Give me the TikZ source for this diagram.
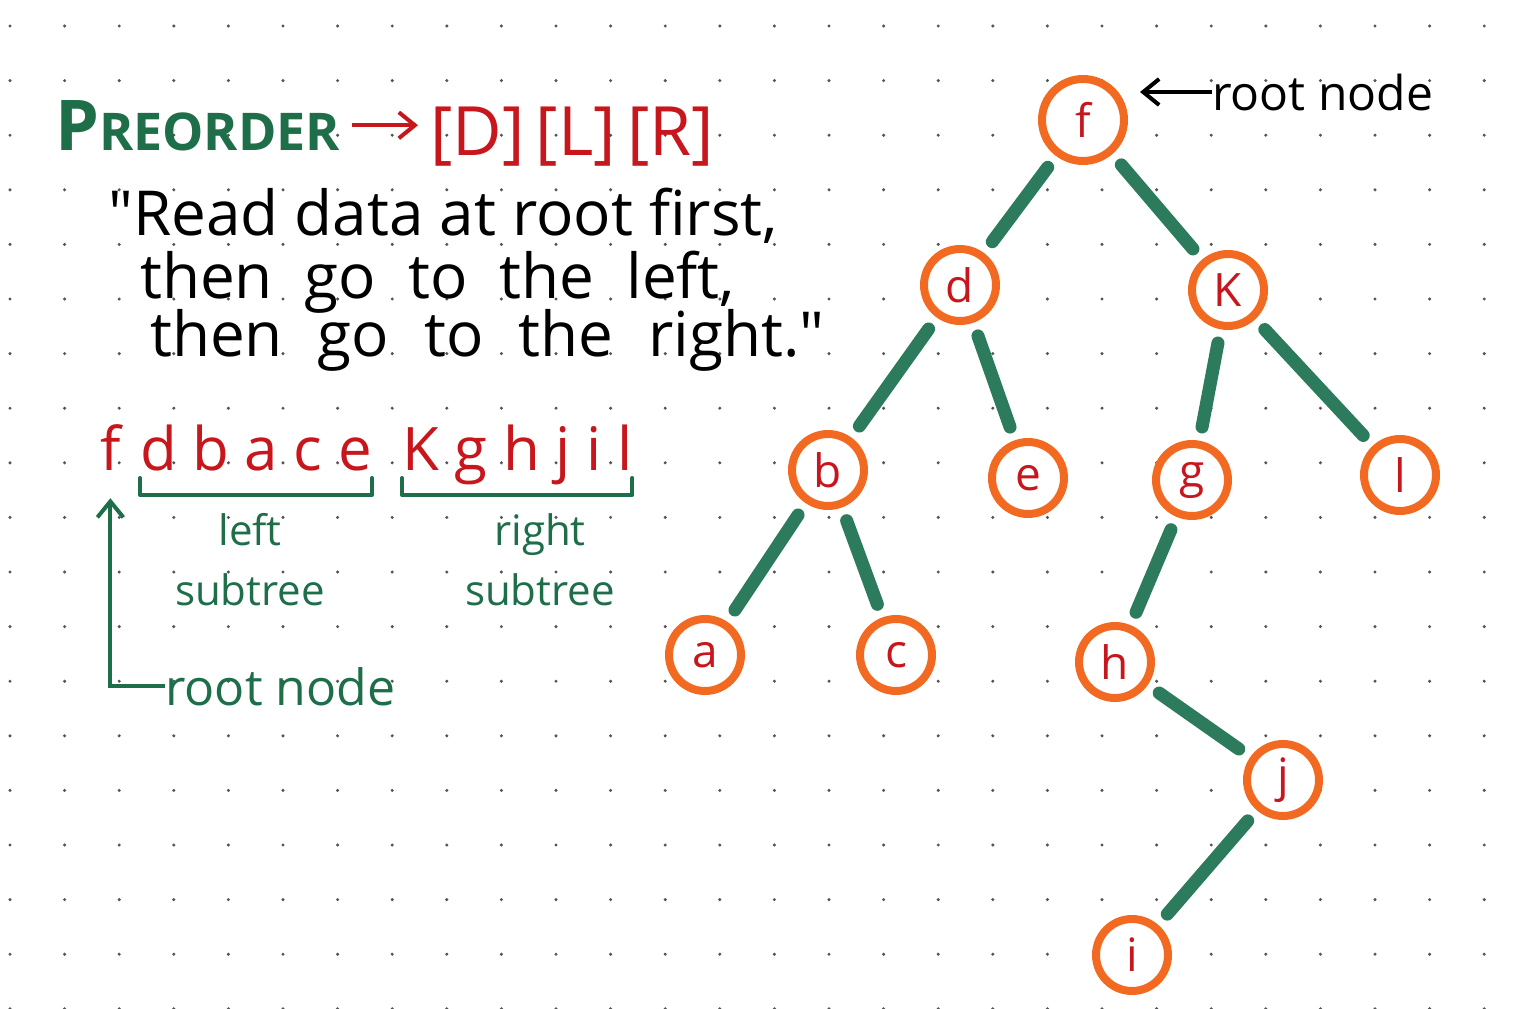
\documentclass[tikz,border=0pt]{standalone}
\usepackage{fontspec}
\setmainfont{Open Sans}
\usetikzlibrary{arrows.meta}

\definecolor{inkgreen}{HTML}{1F6E4A}
\definecolor{branchgreen}{HTML}{2B7B5C}
\definecolor{inkred}{HTML}{C8161D}
\definecolor{ringorange}{HTML}{F26A21}
\definecolor{dotgray}{HTML}{555555}

\tikzset{
  tnode/.style={circle, draw=ringorange, line width=8pt, fill=white, minimum size=72pt,
    inner sep=0pt, text=inkred, font=\fontsize{46}{46}\selectfont},
  branch/.style={draw=branchgreen, line width=13pt, line cap=round,
    shorten >=14pt, shorten <=14pt},
  hand/.style={inner sep=0pt, anchor=base west, font=\fontsize{62}{62}\selectfont},
  handarrow/.style={line width=4pt, -{Straight Barb[length=16pt, width=26pt, line width=4pt]}},
  subbrace/.style={draw=inkgreen, line width=4pt, line cap=round, line join=round}
}

\begin{document}
\begin{tikzpicture}[x=1pt, y=-1pt]
% paper
\fill[white] (0,0) rectangle (1537,1009);
\useasboundingbox (0,0) rectangle (1537,1009);
% dotted grid
\foreach \col in {0,...,27}
  \foreach \row in {0,...,18}
    \fill[dotgray] (10+54.6*\col, 26+54.6*\row) circle (1.7pt);

% heading
\node[hand, text=inkgreen, font=\bfseries\fontsize{70}{70}\selectfont] (pre) at (55,150)
  {P\fontsize{52}{52}\selectfont REORDER};
\node[hand, text=inkred, font=\fontsize{68}{68}\selectfont] (dlr) at (430,155) {[D]\,[L]\,[R]};
\draw[handarrow, inkred, shorten <=12pt, shorten >=12pt] (pre.east) -- (pre.east -| dlr.west);

% the rule
\node[hand] (q1) at (108,235) {\textquotedbl Read data at root first,};
\node[hand] (q2) at (140,298) {\spaceskip=32pt then go to the left,};
\node[hand] (q3) at (150,356) {\spaceskip=35pt then go to the right.\textquotedbl};

% preorder sequence
\node[hand, text=inkred, font=\fontsize{60}{60}\selectfont] (sf) at (100,470) {f};
\node[hand, text=inkred, font=\fontsize{60}{60}\selectfont] (sl) at (140,470) {d b a c e};
\node[hand, text=inkred, font=\fontsize{60}{60}\selectfont] (sr) at (402,470) {K g h j i l};
\draw[subbrace] ([yshift=-8pt]sl.base west) -- ++(0,17) -| ([yshift=-8pt]sl.base east);
\draw[subbrace] ([yshift=-8pt]sr.base west) -- ++(0,17) -| ([yshift=-8pt]sr.base east);
\node[inner sep=0pt, align=center, text=inkgreen, font=\fontsize{42}{60}\selectfont] (lsub) at (250,560) {left\\subtree};
\node[inner sep=0pt, align=center, text=inkgreen, font=\fontsize{42}{60}\selectfont] (rsub) at (540,560) {right\\subtree};
\node[hand, text=inkgreen, font=\fontsize{50}{50}\selectfont] (rootl) at (165,705) {root node};
\draw[handarrow, inkgreen] (rootl.west) -| ([yshift=-28pt]sf.south);

% tree
\node[tnode, minimum size=82pt] (f) at (1083,120) {f};
\node[tnode] (d) at (960,285) {d};
\node[tnode] (k) at (1228,290) {K};
\node[tnode] (b) at (828,470) {b};
\node[tnode] (e) at (1028,478) {e};
\node[tnode] (g) at (1192,480) {g};
\node[tnode] (l) at (1400,475) {l};
\node[tnode] (a) at (705,655) {a};
\node[tnode] (c) at (896,655) {c};
\node[tnode] (h) at (1115,662) {h};
\node[tnode] (j) at (1283,780) {j};
\node[tnode] (i) at (1132,955) {i};

\draw[branch] (f) -- (d);
\draw[branch] (f) -- (k);
\draw[branch] (d) -- (b);
\draw[branch] (d) -- (e);
\draw[branch] (k) -- (g);
\draw[branch] (k) -- (l);
\draw[branch] (b) -- (a);
\draw[branch] (b) -- (c);
\draw[branch] (g) -- (h);
\draw[branch] (h) -- (j);
\draw[branch] (j) -- (i);

\node[hand, font=\fontsize{48}{48}\selectfont] (rootr) at (1212,110) {root node};
\draw[handarrow, shorten >=12pt] (rootr.west) -- (rootr.west -| f.east);
\end{tikzpicture}
\end{document}
